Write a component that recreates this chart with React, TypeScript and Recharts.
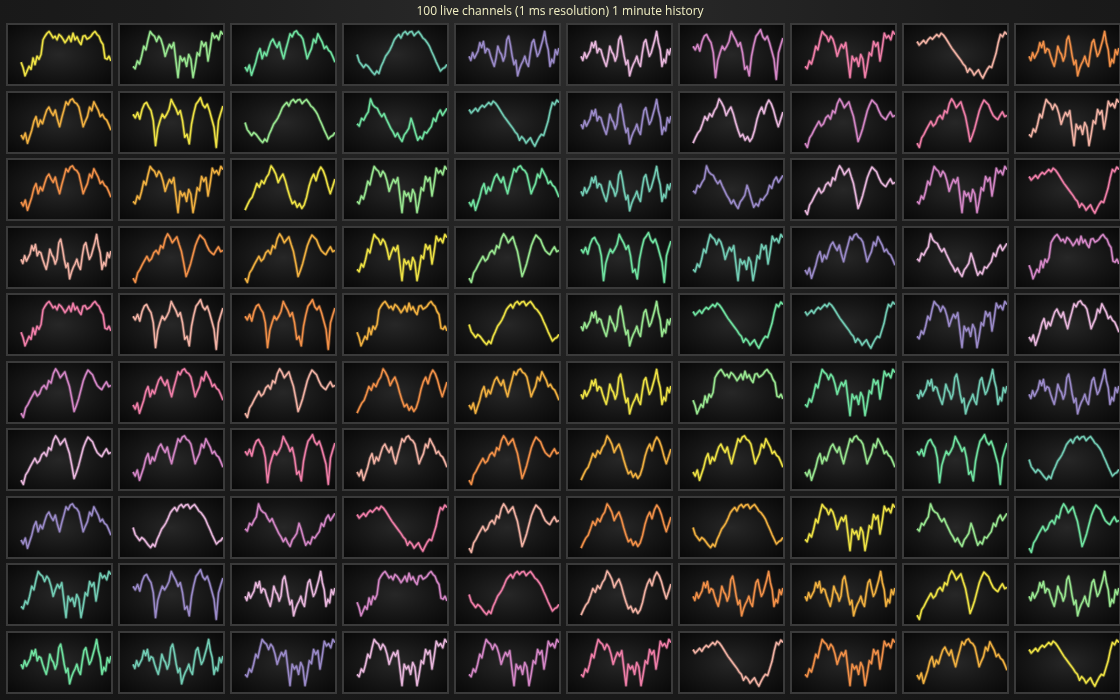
import { Line, LineChart, XAxis, YAxis } from 'recharts';

const TITLE = '100 live channels (1 ms resolution) 1 minute history';

// channel colours cycle through these 11, channel 0 starts at index 1
const PALETTE = [
  '#f0b040', '#eee244', '#98e690', '#6fe2a0', '#72ccb4', '#9a8ac8',
  '#e8b6dc', '#d486c6', '#f07ea8', '#f2b2a4', '#f29048'
];

// waveform shapes (0 = bottom, 100 = top)
const SHAPE_A = [37, 28, 14, 22, 30, 25, 44, 33, 47, 42, 50, 75, 81, 86, 89, 84, 78, 81, 75, 84, 81, 76, 70, 75, 81, 72, 86, 75, 80, 72, 67, 81, 82, 76, 78, 81, 86, 89, 84, 81, 72, 67, 44, 42, 47, 39];
const SHAPE_B = [72, 66, 70, 74, 69, 75, 79, 76, 80, 84, 80, 86, 83, 78, 72, 66, 60, 55, 50, 45, 40, 34, 30, 20, 26, 22, 15, 20, 24, 16, 10, 18, 25, 30, 28, 40, 52, 70, 84, 80, 88, 84];
const SHAPE_C = [50, 38, 33, 28, 33, 30, 25, 20, 16, 22, 18, 30, 38, 47, 52, 58, 66, 75, 80, 84, 78, 86, 89, 84, 88, 89, 82, 86, 89, 84, 78, 75, 70, 64, 55, 47, 38, 30, 22, 26, 28, 33];
const SHAPE_D = [47, 40, 53, 44, 50, 56, 70, 62, 72, 53, 60, 58, 47, 38, 30, 44, 64, 55, 50, 39, 48, 75, 81, 66, 47, 33, 40, 14, 25, 33, 39, 47, 36, 30, 52, 70, 75, 60, 47, 53, 64, 75, 89, 70, 58, 30, 42, 36, 58, 50, 61];
const SHAPE_E = [29, 22, 32, 15, 26, 37, 52, 60, 43, 54, 48, 60, 71, 76, 68, 62, 71, 55, 43, 58, 71, 85, 80, 88, 90, 84, 82, 76, 60, 43, 52, 60, 76, 70, 85, 78, 71, 60, 64, 57, 54, 46, 37];
const SHAPE_F = [30, 26, 39, 34, 47, 64, 58, 75, 89, 84, 81, 72, 81, 76, 64, 47, 58, 67, 61, 70, 40, 11, 47, 39, 44, 30, 50, 42, 11, 30, 53, 48, 72, 64, 70, 39, 60, 86, 78, 82, 75, 89, 84];
const SHAPE_G = [64, 58, 67, 56, 72, 81, 84, 76, 70, 53, 11, 40, 53, 64, 58, 64, 72, 89, 81, 74, 64, 70, 53, 25, 30, 14, 47, 66, 81, 86, 92, 80, 75, 81, 70, 56, 42, 8, 53, 66, 78];
const SHAPE_H = [48, 44, 57, 54, 62, 68, 90, 80, 76, 74, 66, 60, 65, 56, 48, 40, 34, 26, 32, 24, 18, 29, 34, 40, 57, 46, 32, 20, 26, 22, 34, 32, 38, 43, 57, 52, 65, 71, 62, 68, 74];
const SHAPE_J = [15, 24, 32, 37, 48, 60, 54, 65, 60, 70, 76, 90, 84, 76, 62, 70, 76, 65, 50, 37, 26, 30, 20, 26, 18, 24, 37, 55, 68, 76, 65, 80, 88, 82, 71, 56, 43, 55, 68];
const SHAPE_K = [15, 8, 24, 30, 38, 45, 52, 44, 48, 58, 62, 56, 70, 66, 82, 90, 84, 75, 80, 85, 72, 60, 40, 18, 28, 40, 55, 70, 80, 88, 84, 80, 70, 62, 58, 55, 62, 68, 60, 62];

const SHAPES: Record<string, number[]> = {
  A: SHAPE_A, B: SHAPE_B, C: SHAPE_C, D: SHAPE_D, E: SHAPE_E,
  F: SHAPE_F, G: SHAPE_G, H: SHAPE_H, J: SHAPE_J, K: SHAPE_K
};

// which shape each of the 100 channels shows, row by row
const CHANNEL_SHAPES = [
  'A', 'F', 'E', 'C', 'D', 'D', 'G', 'F', 'B', 'D',
  'E', 'G', 'C', 'H', 'B', 'D', 'J', 'K', 'K', 'F',
  'E', 'F', 'J', 'F', 'E', 'D', 'H', 'K', 'F', 'B',
  'D', 'K', 'K', 'F', 'K', 'G', 'F', 'E', 'H', 'A',
  'A', 'G', 'G', 'A', 'C', 'D', 'B', 'B', 'F', 'E',
  'K', 'E', 'K', 'J', 'E', 'D', 'A', 'F', 'D', 'D',
  'K', 'E', 'G', 'E', 'K', 'J', 'E', 'E', 'G', 'C',
  'E', 'C', 'H', 'B', 'K', 'J', 'C', 'F', 'H', 'K',
  'F', 'G', 'D', 'A', 'C', 'J', 'D', 'D', 'K', 'D',
  'D', 'D', 'F', 'F', 'F', 'F', 'B', 'F', 'E', 'B'
];

const CELL_W = 107;
const CELL_H = 63;
const COL_STEP = 112;
const ROW_STEP = 67.5;

function Channel({ index }: { index: number }) {
  const values = SHAPES[CHANNEL_SHAPES[index]];
  const data = values.map((v, i) => ({ t: i, v }));
  const n = values.length - 1;
  const color = PALETTE[(index + 1) % PALETTE.length];
  const row = Math.floor(index / 10);
  const col = index % 10;
  return (
    <div
      style={{
        position: 'absolute',
        left: 6 + col * COL_STEP,
        top: 23 + row * ROW_STEP,
        width: CELL_W,
        height: CELL_H,
        boxSizing: 'border-box',
        border: '2px solid #3a3a3a',
        background: 'radial-gradient(ellipse at center, #272727 0%, #151515 55%, #080808 100%)'
      }}
    >
      <LineChart width={CELL_W - 4} height={CELL_H - 4} data={data} margin={{ top: 0, right: 0, bottom: 0, left: 0 }}>
        <XAxis type="number" dataKey="t" domain={[-n * 0.145, n]} hide />
        <YAxis domain={[0, 100]} hide />
        {/* soft halo stands in for the trace's high-frequency fuzz */}
        <Line
          type="linear"
          dataKey="v"
          stroke={color}
          strokeOpacity={0.35}
          strokeWidth={3.2}
          strokeLinejoin="round"
          dot={false}
          isAnimationActive={false}
        />
        <Line
          type="linear"
          dataKey="v"
          stroke={color}
          strokeWidth={1.5}
          strokeLinejoin="round"
          dot={false}
          isAnimationActive={false}
        />
      </LineChart>
    </div>
  );
}

export default function App() {
  return (
    <div
      style={{
        position: 'fixed',
        left: 0,
        top: 0,
        width: 1120,
        height: 700,
        overflow: 'hidden',
        background: 'radial-gradient(ellipse at 50% 0%, #2c2c2c 0%, #1c1c1c 50%, #151515 100%)',
        fontFamily: '"Open Sans", "Noto Sans", sans-serif'
      }}
    >
      <div
        style={{
          position: 'absolute',
          left: 0,
          top: 2,
          width: 1120,
          textAlign: 'center',
          color: '#f2f0c4',
          fontSize: 12
        }}
      >
        {TITLE}
      </div>
      {CHANNEL_SHAPES.map((_, i) => (
        <Channel key={i} index={i} />
      ))}
    </div>
  );
}
